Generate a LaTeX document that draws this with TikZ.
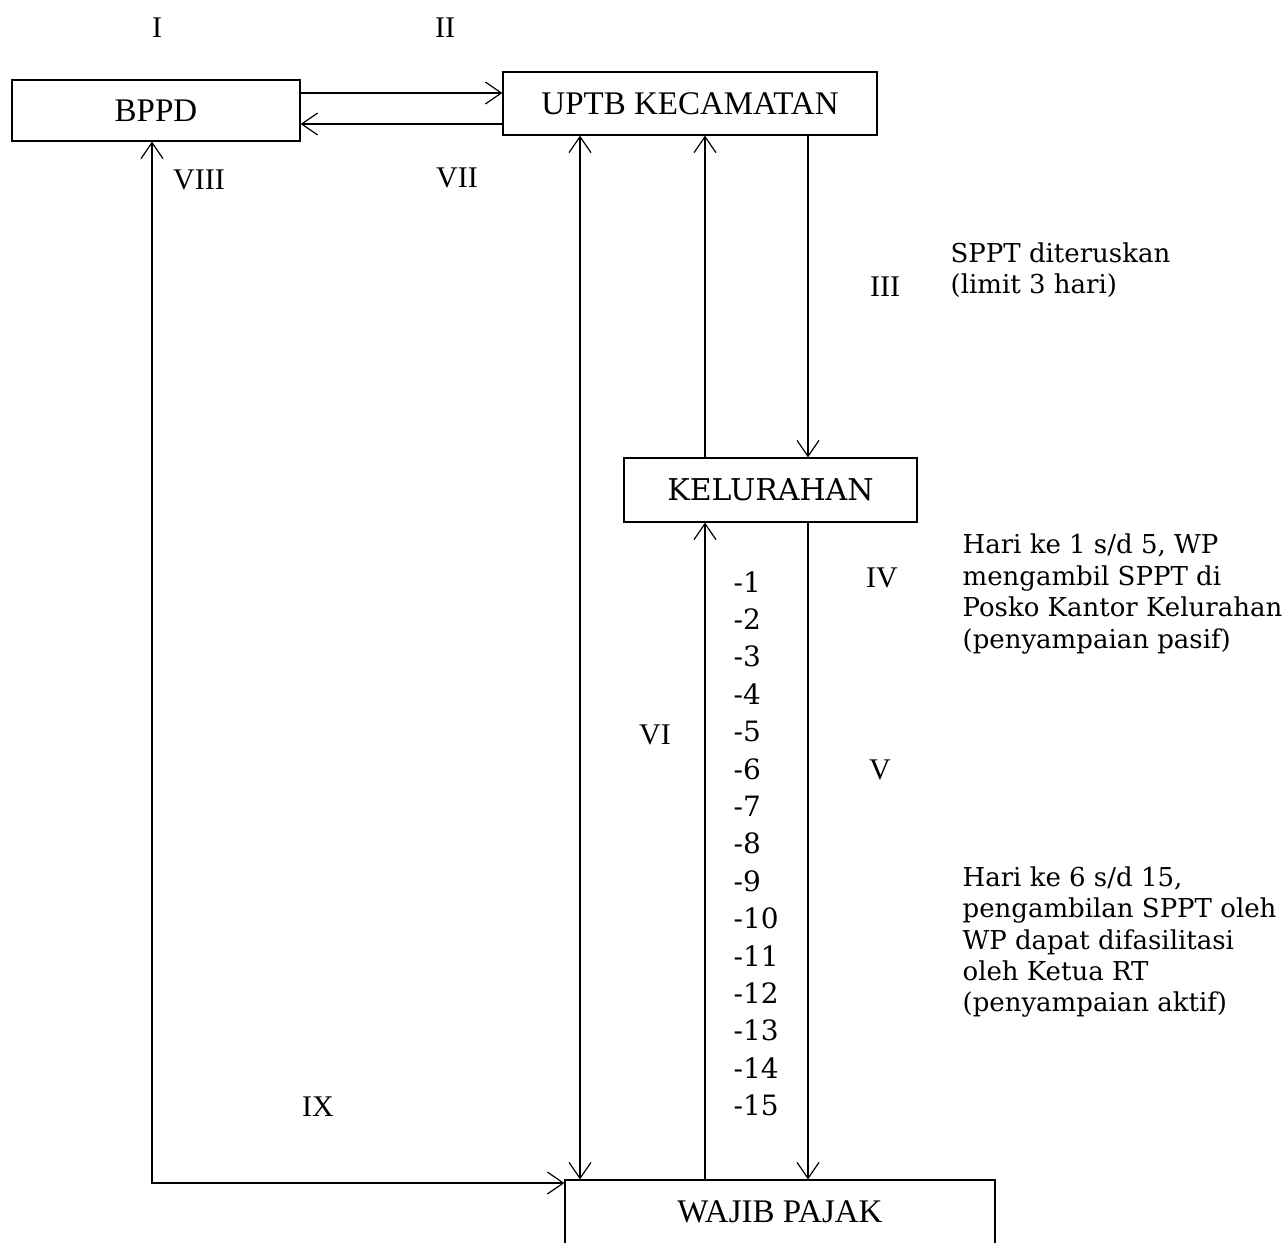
\documentclass[tikz,border=0pt]{standalone}
\usepackage{fontspec}
\setmainfont{Liberation Serif}
\newfontfamily\notefont{DejaVu Serif}
\usetikzlibrary{arrows.meta}

\tikzset{
  box/.style={draw, line width=0.6pt, inner sep=0pt, font=\fontsize{16.5}{18}\selectfont},
  roman/.style={font=\fontsize{15}{17}\selectfont},
  note/.style={align=left, anchor=west, inner sep=0pt, font=\notefont\fontsize{13}{15.7}\selectfont},
  day/.style={anchor=west, inner sep=0pt, font=\notefont\fontsize{14}{15}\selectfont},
}

\begin{document}
\begin{tikzpicture}[x=0.5pt, y=-0.5pt, line width=0.6pt, >={Straight Barb[length=8pt, width=11pt]}]
\useasboundingbox (0,0) rectangle (1288,1242);
% Boxes
\node [box, minimum width=144pt, minimum height=30.5pt] (bppd) at (156,110.5) {BPPD};
\node [box, minimum width=187pt, minimum height=31.5pt] (uptb) at (690,103.5) {UPTB KECAMATAN};
\node [box, minimum width=146.5pt, minimum height=32pt, font=\notefont\fontsize{15}{17}\selectfont] (kel) at (770.5,490) {KELURAHAN};
\node [box, minimum width=215pt, minimum height=32pt] (wp) at (780,1212) {WAJIB PAJAK};
% Arrows BPPD -- UPTB
\draw [->] (bppd.east |- 0,93) -- (uptb.west |- 0,93);
\draw [->] (uptb.west |- 0,124) -- (bppd.east |- 0,124);
% Line BPPD -- Wajib Pajak
\draw [<->] (bppd.south -| 152,0) -- (152,1183) -- (wp.west |- 0,1183);
% Line UPTB -- Wajib Pajak
\draw [<->] (uptb.south -| 580,0) -- (wp.north -| 580,0);
% Upward lines
\draw [->] (wp.north -| 705,0) -- (kel.south -| 705,0);
\draw [->] (kel.north -| 705,0) -- (uptb.south -| 705,0);
% Downward lines
\draw [->] (uptb.south -| 808,0) -- (kel.north -| 808,0);
\draw [->] (kel.south -| 808,0) -- (wp.north -| 808,0);
% Roman labels
\node [roman] (l1) at (157,28) {I};
\node [roman] (l2) at (445,28) {II};
\node [roman] (l3) at (885,287) {III};
\node [roman] (l4) at (882,578) {IV};
\node [roman] (l5) at (880,770) {V};
\node [roman] (l6) at (655,735) {VI};
\node [roman] (l7) at (457,178) {VII};
\node [roman] (l8) at (199,180) {VIII};
\node [roman] (l9) at (318,1107) {IX};
% Days
\foreach \n in {1,...,15}
  \node [day] (d\n) at (733,{582+(\n-1)*37.36}) {-\n};
% Notes
\node [note] (n3) at (950,270) {SPPT diteruskan\\(limit 3 hari)};
\node [note] (n4) at (962,594) {Hari ke 1 s/d 5, WP\\mengambil SPPT di\\Posko Kantor Kelurahan\\(penyampaian pasif)};
\node [note] (n5) at (962,942) {Hari ke 6 s/d 15,\\pengambilan SPPT oleh\\WP dapat difasilitasi\\oleh Ketua RT\\(penyampaian aktif)};
\end{tikzpicture}
\end{document}
